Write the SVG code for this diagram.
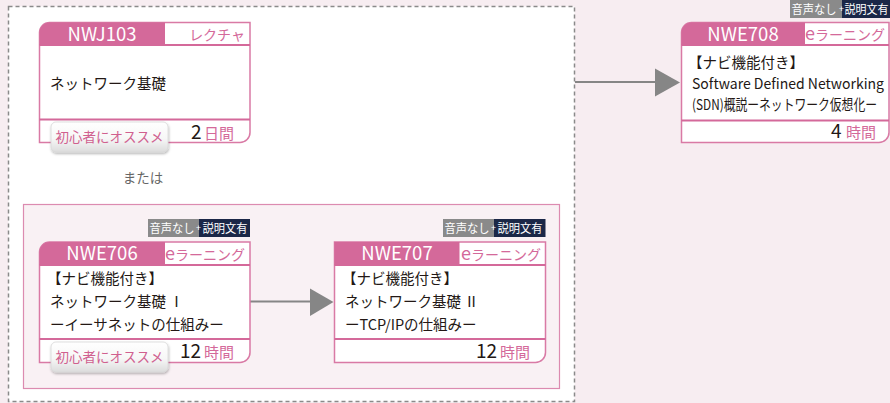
<svg xmlns="http://www.w3.org/2000/svg" width="890" height="403" viewBox="0 0 890 403">
<defs>
<style>
.jp{font-family:"Noto Sans CJK JP","Noto Sans",sans-serif;}
.card{fill:#fff;stroke:#d97aa5;stroke-width:1.5;}
.hdr{fill:#d4699a;}
.code{font-size:18.5px;fill:#fff;text-anchor:middle;}
.typ{font-size:14px;fill:#d4699a;text-anchor:end;}
.body{font-size:14.5px;fill:#231815;}
.div{stroke:#d4699a;stroke-width:2;}
.num{font-size:19px;fill:#231815;}
.unit{font-size:15px;fill:#d4699a;}
.badge{fill:url(#bg);stroke:#d8d8d8;stroke-width:0.8;filter:url(#sh);}
.btxt{font-size:13.5px;fill:#d0608f;text-anchor:middle;}
.tag{font-size:12px;fill:#fff;}
.plus{font-size:9px;fill:#fff;text-anchor:middle;}
.conn{stroke:#868686;stroke-width:2;fill:none;}
.head{fill:#868686;}
</style>
<linearGradient id="bg" x1="0" y1="0" x2="0" y2="1">
<stop offset="0" stop-color="#ffffff"/>
<stop offset="0.55" stop-color="#f7f7f7"/>
<stop offset="1" stop-color="#dcdcdc"/>
</linearGradient>
<filter id="sh" x="-10%" y="-10%" width="120%" height="140%">
<feDropShadow dx="0.5" dy="1.5" stdDeviation="1" flood-color="#000" flood-opacity="0.3"/>
</filter>
</defs>
<rect x="0" y="0" width="890" height="403" fill="#f7edf1"/>
<rect x="8.5" y="6.5" width="566" height="395" fill="#fff" stroke="#8a8a8a" stroke-width="1.5" stroke-dasharray="4 3"/>
<rect x="23.5" y="204.5" width="536" height="184" fill="#f9f1f4" stroke="#dc8bb0" stroke-width="1.2"/>
<text class="jp" x="143" y="183" font-size="13.5" fill="#666" text-anchor="middle">または</text>

<g id="connectors">
<line class="conn" x1="250" y1="301.5" x2="312" y2="301.5"/>
<polygon class="head" points="310,288.5 333.5,302 310,316"/>
<line class="conn" x1="575" y1="82" x2="657" y2="82"/>
<polygon class="head" points="655,68.5 680,82.5 655,96.5"/>
</g>

<g id="NWJ103">
<path class="card" d="M39.5,142.5 V32.5 A10,10 0 0 1 49.5,22.5 H250 V132.5 A10,10 0 0 1 240,142.5 Z"/>
<path class="hdr" d="M39.5,45 V32.5 A10,10 0 0 1 49.5,22.5 H165 V45 Z"/>
<line class="div" x1="39.5" y1="45" x2="250" y2="45"/>
<line class="div" x1="39.5" y1="119.5" x2="250" y2="119.5" stroke-width="1.5"/>
<text class="jp code" x="102" y="40.5">NWJ103</text>
<text class="jp typ" x="245" y="40">レクチャ</text>
<text class="jp body" x="50" y="89">ネットワーク基礎</text>
<rect class="badge" x="51" y="122" width="117" height="30" rx="5"/>
<text class="jp btxt" x="109.5" y="142">初心者にオススメ</text>
<text class="jp num" x="191" y="139">2</text>
<text class="jp unit" x="204" y="139">日間</text>
</g>

<g id="NWE706">
<rect x="148" y="219" width="51" height="18" fill="#8a8a8a"/>
<rect x="199" y="219" width="51" height="18" fill="#1b2747"/>
<text class="jp tag" x="149.5" y="232.5" textLength="45" lengthAdjust="spacingAndGlyphs">音声なし</text>
<text class="jp plus" x="198.5" y="231">+</text>
<text class="jp tag" x="202.5" y="232.5" textLength="45" lengthAdjust="spacingAndGlyphs">説明文有</text>
<path class="card" d="M39.5,362.5 V252 A10,10 0 0 1 49.5,242 H250 V352.5 A10,10 0 0 1 240,362.5 Z"/>
<path class="hdr" d="M39.5,265 V252 A10,10 0 0 1 49.5,242 H165 V265 Z"/>
<line class="div" x1="39.5" y1="265" x2="250" y2="265"/>
<line class="div" x1="39.5" y1="339" x2="250" y2="339" stroke-width="1.5"/>
<text class="jp code" x="102" y="260">NWE706</text>
<text class="jp typ" x="245" y="260"><tspan font-size="18">e</tspan>ラーニング</text>
<text class="jp body" x="47" y="284">【ナビ機能付き】</text>
<text class="jp body" x="50" y="307">ネットワーク基礎 Ⅰ</text>
<text class="jp body" x="50" y="330">ーイーサネットの仕組みー</text>
<rect class="badge" x="51" y="342" width="117" height="30" rx="5"/>
<text class="jp btxt" x="109.5" y="362">初心者にオススメ</text>
<text class="jp num" x="180" y="358">12</text>
<text class="jp unit" x="204" y="358">時間</text>
</g>

<g id="NWE707">
<rect x="443" y="219" width="51" height="18" fill="#8a8a8a"/>
<rect x="494" y="219" width="51.5" height="18" fill="#1b2747"/>
<text class="jp tag" x="444.5" y="232.5" textLength="45" lengthAdjust="spacingAndGlyphs">音声なし</text>
<text class="jp plus" x="493.5" y="231">+</text>
<text class="jp tag" x="497.5" y="232.5" textLength="45" lengthAdjust="spacingAndGlyphs">説明文有</text>
<path class="card" d="M334.5,362.5 V242 H545.5 V352.5 A10,10 0 0 1 535.5,362.5 Z"/>
<rect class="hdr" x="334.5" y="242" width="125" height="23"/>
<line class="div" x1="334.5" y1="265" x2="545.5" y2="265"/>
<line class="div" x1="334.5" y1="339" x2="545.5" y2="339" stroke-width="1.5"/>
<text class="jp code" x="397" y="260">NWE707</text>
<text class="jp typ" x="541" y="260"><tspan font-size="18">e</tspan>ラーニング</text>
<text class="jp body" x="342" y="284">【ナビ機能付き】</text>
<text class="jp body" x="345" y="307">ネットワーク基礎 Ⅱ</text>
<text class="jp body" x="345" y="330">ーTCP/IPの仕組みー</text>
<text class="jp num" x="476" y="358">12</text>
<text class="jp unit" x="500" y="358">時間</text>
</g>

<g id="NWE708">
<rect x="790" y="0" width="52" height="18" fill="#8a8a8a"/>
<rect x="842" y="0" width="48" height="18" fill="#1b2747"/>
<text class="jp tag" x="791.5" y="13.5" textLength="45" lengthAdjust="spacingAndGlyphs">音声なし</text>
<text class="jp plus" x="841.5" y="12">+</text>
<text class="jp tag" x="844.5" y="13.5" textLength="44" lengthAdjust="spacingAndGlyphs">説明文有</text>
<path class="card" d="M681.5,142.5 V32.5 A10,10 0 0 1 691.5,22.5 H889 V132.5 A10,10 0 0 1 879,142.5 Z"/>
<path class="hdr" d="M681.5,45 V32.5 A10,10 0 0 1 691.5,22.5 H805 V45 Z"/>
<line class="div" x1="681.5" y1="45" x2="889" y2="45"/>
<line class="div" x1="681.5" y1="120.5" x2="889" y2="120.5" stroke-width="1.5"/>
<text class="jp code" x="743" y="40.5">NWE708</text>
<text class="jp typ" x="885" y="40"><tspan font-size="18">e</tspan>ラーニング</text>
<text class="jp body" x="688" y="68">【ナビ機能付き】</text>
<text class="jp body" x="692" y="89" textLength="192" lengthAdjust="spacingAndGlyphs">Software Defined Networking</text>
<text class="jp body" x="692" y="110" font-size="13.5" textLength="185" lengthAdjust="spacingAndGlyphs">(SDN)概説ーネットワーク仮想化ー</text>
<text class="jp num" x="831" y="138">4</text>
<text class="jp unit" x="846" y="138">時間</text>
</g>
</svg>
